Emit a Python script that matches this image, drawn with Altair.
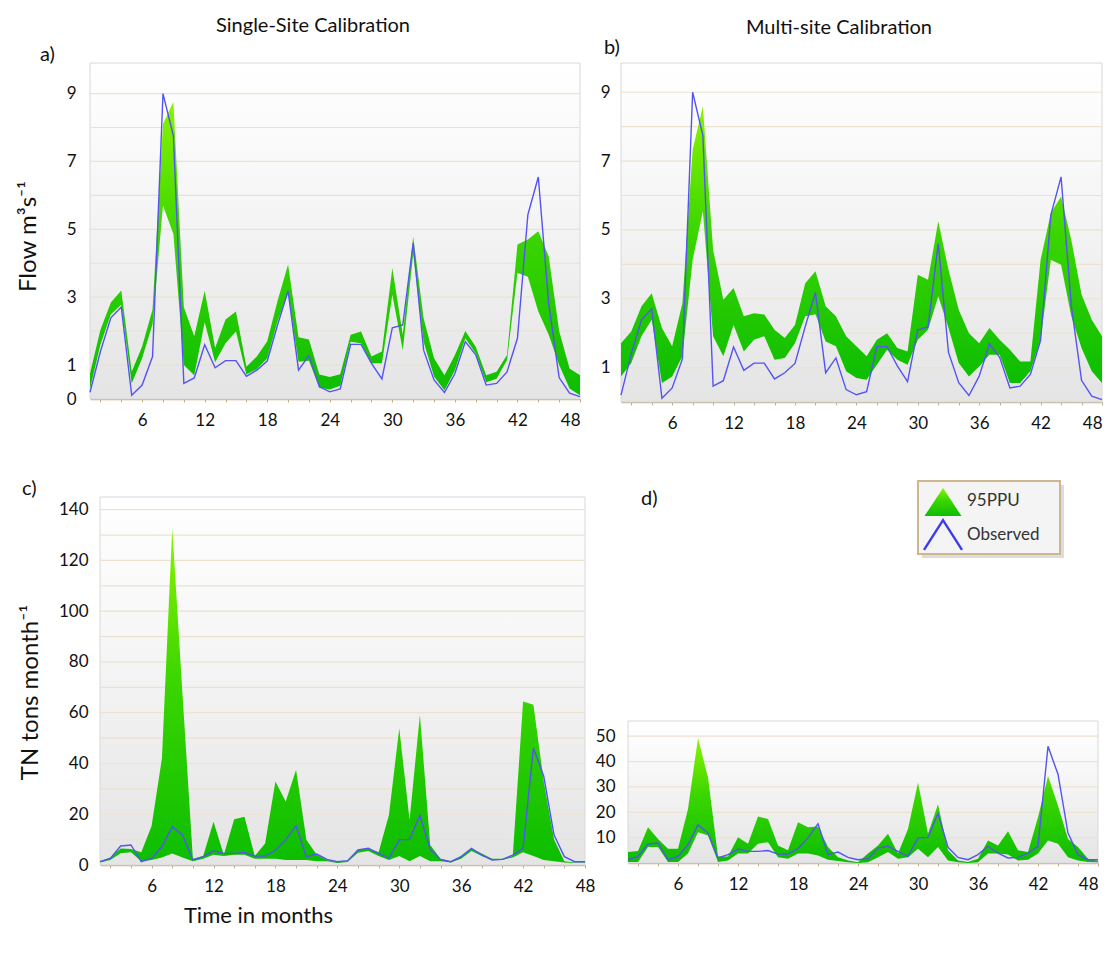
import altair as alt
import pandas as pd

# ---------------------------------------------------------------- data
months = list(range(1, 49))

flow_observed = [0.2, 1.4, 2.39, 2.71, 0.11, 0.41, 1.25, 9.0, 7.75, 0.46, 0.62, 1.6,
                 0.92, 1.13, 1.13, 0.67, 0.85, 1.12, 2.19, 3.18, 0.85, 1.28, 0.36, 0.21,
                 0.3, 1.61, 1.61, 1.05, 0.59, 2.1, 2.18, 4.6, 1.44, 0.56, 0.19, 0.75,
                 1.69, 1.3, 0.41, 0.46, 0.8, 1.79, 5.43, 6.54, 2.8, 0.63, 0.17, 0.07]

flow_single_lower = [0.3, 1.6, 2.5, 2.78, 0.46, 1.2, 2.2, 5.7, 4.86, 1.0, 0.7, 2.26,
                     1.08, 1.64, 1.99, 0.72, 0.88, 1.2, 2.3, 3.12, 1.1, 1.13, 0.33, 0.28,
                     0.39, 1.69, 1.64, 1.05, 1.05, 3.07, 1.44, 4.25, 1.69, 0.66, 0.26, 0.85,
                     1.79, 1.34, 0.49, 0.6, 1.15, 3.71, 3.6, 2.58, 1.89, 1.0, 0.31, 0.11]
flow_single_upper = [0.75, 2.04, 2.84, 3.2, 0.8, 1.55, 2.64, 8.1, 8.76, 2.7, 1.85, 3.19,
                     1.5, 2.34, 2.58, 0.95, 1.25, 1.7, 2.9, 3.96, 1.82, 1.75, 0.72, 0.65,
                     0.73, 1.89, 1.99, 1.25, 1.4, 3.86, 1.89, 4.79, 2.38, 1.2, 0.7, 1.3,
                     2.0, 1.54, 0.7, 0.8, 1.3, 4.55, 4.7, 4.94, 4.2, 2.0, 0.9, 0.7]

flow_multi_lower = [0.74, 1.13, 1.91, 2.39, 0.55, 0.74, 1.33, 4.13, 5.54, 1.91, 1.33, 2.24,
                    1.47, 1.81, 1.91, 1.23, 1.28, 1.71, 2.49, 2.55, 1.76, 1.62, 0.89, 0.7,
                    0.65, 1.08, 1.52, 1.23, 1.08, 1.81, 2.1, 3.07, 2.15, 1.13, 0.74, 1.03,
                    1.37, 1.37, 0.55, 0.55, 0.89, 1.81, 4.13, 3.99, 2.49, 1.57, 0.89, 0.55]
flow_multi_upper = [1.71, 2.05, 2.78, 3.16, 2.15, 1.62, 2.87, 7.33, 8.59, 4.42, 2.97, 3.31,
                    2.49, 2.58, 2.54, 2.1, 1.86, 2.24, 3.45, 3.8, 2.78, 2.49, 1.91, 1.62,
                    1.33, 1.81, 2.0, 1.57, 1.47, 3.7, 3.55, 5.25, 3.84, 2.68, 2.0, 1.71,
                    2.15, 1.81, 1.52, 1.18, 1.18, 4.13, 5.49, 5.97, 4.71, 3.12, 2.39, 1.91]

tn_observed = [1.3, 2.6, 7.5, 7.9, 1.3, 2.6, 7.2, 15.0, 11.8, 2.0, 3.3, 5.5,
               4.6, 4.6, 4.9, 3.5, 3.5, 5.7, 9.9, 15.5, 3.3, 4.3, 2.2, 1.3,
               1.7, 5.9, 6.6, 4.6, 2.6, 9.9, 10.1, 19.5, 6.2, 2.2, 1.3, 3.3,
               6.6, 3.9, 2.0, 2.2, 3.9, 6.6, 46.0, 35.0, 11.8, 3.3, 1.3, 1.3]

tn_single_lower = [1.0, 2.0, 4.6, 5.0, 1.5, 2.0, 3.0, 4.5, 3.0, 1.5, 2.5, 4.0,
                   3.5, 4.0, 4.0, 2.5, 2.5, 2.5, 2.0, 2.0, 2.0, 1.5, 1.5, 0.8,
                   1.2, 4.8, 5.5, 3.5, 2.0, 3.5, 1.5, 3.5, 1.5, 1.5, 1.0, 2.5,
                   5.5, 3.5, 2.0, 2.0, 3.0, 5.0, 3.5, 2.0, 1.5, 1.0, 0.8, 0.8]
tn_single_upper = [1.5, 3.0, 6.5, 6.3, 5.0, 15.4, 42.0, 132.8, 67.0, 2.5, 3.5, 17.0,
                   4.0, 18.0, 19.0, 3.5, 8.5, 32.9, 25.0, 37.5, 9.9, 4.0, 2.0, 1.2,
                   1.6, 6.0, 6.5, 5.0, 19.7, 53.9, 17.7, 59.2, 7.9, 2.5, 1.5, 3.5,
                   6.5, 4.5, 2.5, 2.5, 3.5, 64.4, 63.1, 33.0, 10.0, 1.5, 1.0, 1.0]

tn_multi_lower = [0.4, 0.4, 6.3, 6.3, 0.4, 0.4, 3.7, 12.1, 10.8, 0.4, 1.0, 3.7,
                  3.7, 7.6, 8.2, 2.3, 1.7, 3.7, 3.7, 3.0, 1.3, 0.8, 0.3, 0.0,
                  0.3, 2.3, 4.3, 1.7, 2.3, 5.6, 2.3, 6.3, 1.0, 0.3, 0.0, 0.3,
                  3.7, 3.7, 3.4, 1.0, 1.3, 3.7, 8.9, 7.6, 2.3, 1.0, 0.4, 0.3]
tn_multi_upper = [4.3, 4.7, 14.1, 9.5, 5.6, 5.6, 21.3, 49.3, 33.7, 2.6, 2.6, 10.2,
                  7.6, 18.3, 17.4, 6.9, 5.0, 16.1, 14.1, 14.4, 6.3, 2.3, 1.0, 0.3,
                  3.7, 6.9, 11.5, 3.7, 13.4, 31.7, 11.5, 23.2, 5.0, 1.0, 0.4, 1.7,
                  8.9, 6.9, 12.5, 5.0, 4.3, 18.0, 34.3, 22.6, 9.5, 6.3, 1.7, 0.8]

month_ticks = list(range(2, 49, 2))      # tick every 2 months, label every 6
legend_labels = ["95PPU", "Observed"]
column_titles = ["Single-Site Calibration", "Multi-site Calibration"]

FONT = "Lato"
TAN = "#c4ad84"
GRID = "#ece2d0"
BLUE = "#5454f4"

band_fill = alt.Gradient(
    gradient="linear",
    stops=[alt.GradientStop(color="#8af400", offset=0),
           alt.GradientStop(color="#3cd600", offset=0.45),
           alt.GradientStop(color="#0cbd00", offset=1)],
    x1=0, x2=0, y1=0, y2=1,
)
plot_bg = alt.Gradient(
    gradient="linear",
    stops=[alt.GradientStop(color="#ffffff", offset=0),
           alt.GradientStop(color="#f6f6f6", offset=0.4),
           alt.GradientStop(color="#e4e4e4", offset=1)],
    x1=0, x2=0, y1=0, y2=1,
)


def text_layer(txt, x, y, size=20, align="left"):
    return alt.Chart(pd.DataFrame({"t": [txt]})).mark_text(
        font=FONT, fontSize=size, align=align, baseline="middle", color="#111111"
    ).encode(text="t:N", x=alt.value(x), y=alt.value(y))


def panel(lower, upper, observed, width, height, ymax, grid_vals, label_vals,
          y_title=None, x_title=None, letter=None, title=None, label_pad=13,
          flush=True, inset=0):
    """One calibration panel; `inset` leaves a gap between the y labels and the plot."""
    df = pd.DataFrame({"month": months, "lower": lower, "upper": upper,
                       "observed": observed})
    xs = alt.Scale(domain=[1, 48], nice=False, zero=False, range=[inset, width])
    ys = alt.Scale(domain=[0, ymax], nice=False, zero=True)
    xaxis_kw = dict(values=month_ticks, labelExpr="datum.value % 6 == 0 ? datum.label : ''",
                    grid=False, tickSize=3, tickColor=TAN, domainColor=TAN,
                    domainWidth=1.5, labelPadding=10, labelFontSize=17,
                    labelFont=FONT, labelColor="#111111", labelFlush=flush)
    if x_title:
        xaxis_kw.update(title=x_title[0], titleX=x_title[1], titleY=x_title[2],
                        titleFont=FONT, titleFontSize=22, titleFontWeight="normal",
                        titleColor="#111111", titleAlign="center", titleBaseline="middle")
    else:
        xaxis_kw["title"] = None
    xaxis = alt.Axis(**xaxis_kw)

    yaxis_kw = dict(values=label_vals, grid=False, ticks=False, domain=False,
                    labelPadding=label_pad, labelFontSize=17, labelFont=FONT,
                    labelColor="#111111")
    if y_title:
        yaxis_kw.update(title=y_title[0], titleX=y_title[1], titleY=y_title[2],
                        titleFont=FONT, titleFontSize=24, titleFontWeight="normal",
                        titleColor="#111111", titleAlign="center",
                        titleBaseline="middle", titleAngle=270)
    else:
        yaxis_kw["title"] = None
    yaxis = alt.Axis(**yaxis_kw)

    bg = alt.Chart(pd.DataFrame({"k": [0]})).mark_rect(
        fill=plot_bg, stroke="#d8d8d8", strokeWidth=1
    ).encode(x=alt.value(inset), x2=alt.value(width), y=alt.value(0), y2=alt.value(height))

    grid = alt.Chart(pd.DataFrame({"g": grid_vals})).mark_rule(
        color=GRID, strokeWidth=1.2
    ).encode(y=alt.Y("g:Q", scale=ys, axis=yaxis),
             x=alt.value(inset), x2=alt.value(width))

    band = alt.Chart(df).mark_area(fill=band_fill, opacity=1).encode(
        x=alt.X("month:Q", scale=xs, axis=xaxis),
        y=alt.Y("lower:Q", scale=ys, axis=yaxis),
        y2="upper:Q",
    )
    line = alt.Chart(df).mark_line(color=BLUE, strokeWidth=1.4).encode(
        x=alt.X("month:Q", scale=xs, axis=xaxis),
        y=alt.Y("observed:Q", scale=ys, axis=yaxis),
    )
    layers = [bg, grid, band, line]
    if letter:
        layers.append(text_layer(letter[0], letter[1], letter[2]))
    if title:
        layers.append(text_layer(title[0], title[1], title[2], size=20, align="center"))
    return alt.layer(*layers).properties(width=width, height=height)


flow_grid = list(range(1, 10))

chart_a = panel(flow_single_lower, flow_single_upper, flow_observed, 490, 336, 9.9,
                flow_grid, [0, 1, 3, 5, 7, 9], y_title=("Flow m³s⁻¹", -62, 173),
                letter=("a)", -50, -8), title=(column_titles[0], 223, -37),
                label_pad=14)

chart_b = panel(flow_multi_lower, flow_multi_upper, flow_observed, 481, 339, 9.85,
                flow_grid, [1, 3, 5, 7, 9], letter=("b)", -17, -15),
                title=(column_titles[1], 218, -35), label_pad=11)

chart_c = panel(tn_single_lower, tn_single_upper, tn_observed, 495, 368, 145,
                list(range(10, 145, 10)), list(range(0, 141, 20)),
                y_title=("TN tons month⁻¹", -60, 195),
                x_title=("Time in months", 168, 50),
                letter=("c)", -68, -8), label_pad=2, flush=False, inset=10)

chart_d = panel(tn_multi_lower, tn_multi_upper, tn_observed, 470, 142, 56,
                list(range(10, 56, 10)), [10, 20, 30, 40, 50], label_pad=13)

# legend panel drawn above panel d
leg_w, leg_h = 470, 62
legend_df = pd.DataFrame({"label": legend_labels})
leg_box_shadow = alt.Chart(pd.DataFrame({"k": [0]})).mark_rect(
    fill="#9a9a9a", opacity=0.35
).encode(x=alt.value(294), x2=alt.value(436), y=alt.value(-12), y2=alt.value(61))
leg_box = alt.Chart(pd.DataFrame({"k": [0]})).mark_rect(
    fill="#f4f4f4", stroke="#cdb78f", strokeWidth=2
).encode(x=alt.value(290), x2=alt.value(432), y=alt.value(-16), y2=alt.value(57))
leg_tri = alt.Chart(legend_df).transform_filter(
    alt.datum.label == legend_labels[0]
).mark_point(
    shape="M-1,0.76L0,-0.76L1,0.76Z", filled=True, size=1369, opacity=1,
    fill=band_fill, strokeWidth=0
).encode(x=alt.value(315), y=alt.value(5))
leg_caret = alt.Chart(legend_df).transform_filter(
    alt.datum.label == legend_labels[1]
).mark_point(
    shape="M-1,0.78L0,-0.78L1,0.78", filled=False, size=1444, opacity=1,
    color="#3a3af0", strokeWidth=2.4
).encode(x=alt.value(315), y=alt.value(38))
leg_text_top = alt.Chart(legend_df).transform_filter(
    alt.datum.label == legend_labels[0]
).mark_text(
    font=FONT, fontSize=17, align="left", baseline="middle", color="#333333"
).encode(text="label:N", x=alt.value(339), y=alt.value(4))
leg_text_bottom = alt.Chart(legend_df).transform_filter(
    alt.datum.label == legend_labels[1]
).mark_text(
    font=FONT, fontSize=17, align="left", baseline="middle", color="#333333"
).encode(text="label:N", x=alt.value(339), y=alt.value(38))

legend_panel = alt.layer(leg_box_shadow, leg_box, leg_tri, leg_caret, leg_text_top,
                         leg_text_bottom, text_layer("d)", 13, 2)).properties(
    width=leg_w, height=leg_h)

row1 = alt.hconcat(chart_a, chart_b, spacing=17)
right_col = alt.vconcat(legend_panel, chart_d, spacing=161)
row2 = alt.hconcat(chart_c, right_col, spacing=0)

chart = alt.vconcat(row1, row2, spacing=48).properties(
    padding={"left": 16, "top": 16, "right": 0, "bottom": 0},
    background="white",
).configure_view(stroke=None)

chart.save("out.html", embed_options={"renderer": "svg", "actions": False})
